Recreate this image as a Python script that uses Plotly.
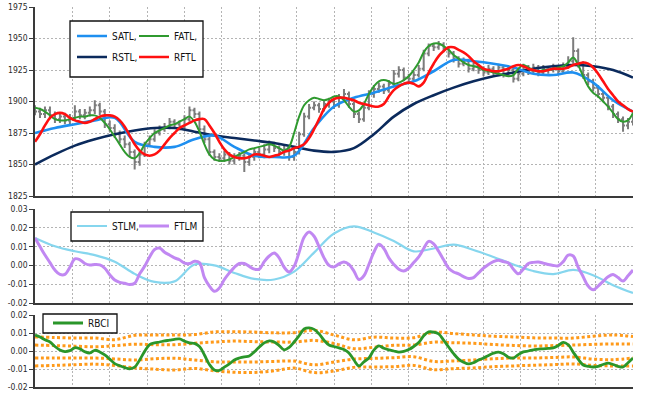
import plotly.graph_objects as go

# ---------------- data ----------------
bar_idx = list(range(121))
coarse_idx = list(range(0, 121, 4))

price_open = [1894,1892,1890,1893,1889,1886,1888,1885,1887,1892,
              1889,1891,1893,1897,1892,1882,1879,1874,1870,1866,
              1860,1852,1858,1866,1870,1875,1878,1880,1884,1882,
              1880,1886,1893,1890,1878,1870,1860,1856,1855,1858,
              1853,1856,1857,1852,1856,1860,1858,1862,1866,1863,
              1860,1862,1856,1860,1874,1888,1895,1897,1894,1898,
              1900,1897,1903,1906,1898,1890,1886,1895,1906,1910,
              1912,1909,1914,1922,1925,1919,1918,1921,1926,1938,
              1944,1943,1945,1942,1938,1934,1930,1932,1926,1928,
              1925,1923,1926,1924,1927,1922,1925,1918,1922,1927,
              1924,1927,1923,1926,1925,1927,1924,1928,1932,1940,
              1930,1921,1916,1911,1906,1903,1896,1890,1886,1881,
              1884]
price_close = [1892,1890,1893,1889,1886,1888,1885,1887,1892,1889,
               1891,1893,1897,1892,1882,1879,1874,1870,1866,1860,
               1852,1858,1866,1870,1875,1878,1880,1884,1882,1880,
               1886,1893,1890,1878,1870,1860,1856,1855,1858,1853,
               1856,1857,1852,1856,1860,1858,1862,1866,1863,1860,
               1862,1856,1860,1874,1888,1895,1897,1894,1898,1900,
               1897,1903,1906,1898,1890,1886,1895,1906,1910,1912,
               1909,1914,1922,1925,1919,1918,1921,1926,1938,1944,
               1943,1945,1942,1938,1934,1930,1932,1926,1928,1925,
               1923,1926,1924,1927,1922,1925,1918,1922,1927,1924,
               1927,1923,1926,1925,1927,1924,1928,1932,1940,1930,
               1921,1916,1911,1906,1903,1896,1890,1886,1881,1884,
               1889]
price_high = [1897,1895,1896,1896,1892,1891,1891,1890,1897,1894,
              1894,1896,1901,1899,1894,1885,1882,1877,1873,1868,
              1862,1861,1868,1873,1878,1881,1883,1887,1886,1885,
              1889,1896,1895,1892,1881,1872,1862,1859,1861,1860,
              1859,1860,1859,1859,1863,1863,1866,1869,1868,1865,
              1865,1864,1863,1876,1891,1898,1900,1899,1901,1903,
              1902,1906,1910,1908,1900,1892,1898,1909,1913,1915,
              1914,1917,1925,1928,1927,1922,1924,1929,1941,1946,
              1946,1948,1947,1944,1940,1936,1935,1934,1931,1930,
              1928,1929,1928,1930,1929,1928,1927,1925,1930,1929,
              1930,1929,1929,1928,1930,1929,1931,1936,1951,1942,
              1932,1923,1918,1913,1908,1905,1898,1892,1888,1887,
              1892]
price_low = [1889,1887,1887,1886,1883,1883,1882,1882,1885,1886,
             1886,1888,1890,1889,1879,1876,1871,1867,1863,1856,
             1846,1849,1856,1864,1868,1873,1876,1878,1879,1877,
             1878,1884,1887,1875,1867,1857,1853,1852,1852,1850,
             1850,1853,1844,1849,1853,1855,1855,1859,1860,1857,
             1857,1853,1853,1858,1872,1886,1893,1891,1892,1895,
             1894,1895,1900,1895,1887,1883,1884,1893,1903,1907,
             1906,1907,1912,1919,1916,1915,1916,1919,1924,1936,
             1940,1941,1939,1935,1931,1927,1928,1923,1924,1922,
             1920,1921,1921,1922,1919,1920,1915,1916,1920,1921,
             1922,1920,1921,1922,1923,1921,1922,1926,1930,1927,
             1918,1913,1908,1903,1900,1893,1887,1883,1876,1878,
             1881]

fatl = [1895,1894,1892,1889,1886,1885,1885,1886,1887,1888,
        1888,1889,1889,1887,1883,1878,1872,1866,1860,1856,
        1855,1859,1866,1871,1875,1877,1879,1881,1882,1884,
        1886,1888,1884,1876,1866,1858,1854,1853,1853,1854,
        1856,1858,1860,1862,1863,1864,1865,1866,1865,1863,
        1861,1864,1875,1888,1897,1901,1903,1902,1901,1902,
        1904,1904,1901,1896,1892,1893,1898,1906,1912,1916,
        1917,1916,1914,1915,1917,1920,1925,1931,1939,1944,
        1946,1946,1944,1941,1937,1934,1931,1929,1928,1927,
        1925,1924,1923,1922,1921,1920,1921,1926,1929,1927,
        1925,1924,1925,1925,1926,1927,1928,1931,1935,1929,
        1920,1912,1907,1904,1900,1896,1891,1886,1884,1885,
        1891]
rftl = [1868,1874,1881,1887,1890,1891,1890,1887,1885,1884,
        1883,1884,1886,1888,1889,1889,1888,1885,1880,1873,
        1866,1861,1858,1857,1858,1861,1866,1871,1875,1879,
        1881,1883,1885,1886,1886,1881,1875,1868,1862,1858,
        1856,1855,1855,1856,1858,1858,1857,1856,1857,1858,
        1860,1861,1863,1864,1866,1871,1878,1886,1894,1899,
        1902,1903,1903,1902,1901,1899,1898,1897,1896,1896,
        1898,1904,1909,1912,1914,1915,1914,1912,1915,1923,
        1930,1936,1940,1943,1943,1941,1939,1936,1932,1929,
        1926,1925,1924,1924,1925,1926,1928,1929,1928,1926,
        1925,1924,1924,1925,1926,1926,1926,1927,1929,1930,
        1931,1930,1927,1922,1916,1910,1905,1900,1897,1894,
        1892]
satl = [1875,1879,1882,1885,1887,1868,1864,1864,1870,1873,
        1864,1857,1856,1857,1879,1896,1903,1907,1912,1916,
        1924,1933,1932,1930,1927,1922,1921,1923,1915,1901,
        1892]
rstl = [1850,1858,1865,1870,1874,1877,1879,1879,1876,1873,
        1871,1869,1867,1864,1861,1860,1863,1874,1888,1898,
        1905,1911,1916,1920,1923,1926,1928,1929,1928,1925,
        1919]

stlm = [0.0146,0.0102,0.0075,0.0055,0.0020,-0.0045,-0.0088,-0.0085,0.0005,0.0000,
        -0.0040,-0.0072,-0.0075,-0.0033,0.0068,0.0170,0.0208,0.0175,0.0130,0.0075,
        0.0090,0.0110,0.0082,0.0045,0.0005,-0.0030,-0.0046,-0.0024,-0.0052,-0.0105,
        -0.0147]
ftlm = [0.0146,0.0100,0.0055,0.0015,-0.0025,-0.0048,-0.0048,-0.0010,0.0035,0.0030,
        0.0010,0.0002,0.0005,0.0003,-0.0015,-0.0050,-0.0078,-0.0090,-0.0095,-0.0102,
        -0.0095,-0.0045,-0.0005,0.0045,0.0085,0.0092,0.0070,0.0055,0.0040,0.0030,
        0.0012,0.0010,0.0022,0.0015,-0.0065,-0.0110,-0.0138,-0.0120,-0.0075,-0.0040,
        -0.0010,0.0010,0.0010,-0.0005,-0.0020,-0.0020,0.0020,0.0050,0.0066,0.0040,
        -0.0010,-0.0035,-0.0005,0.0070,0.0150,0.0178,0.0155,0.0100,0.0040,0.0000,
        -0.0008,0.0008,0.0018,0.0005,-0.0030,-0.0075,-0.0055,0.0005,0.0070,0.0112,
        0.0090,0.0040,0.0005,-0.0020,-0.0030,-0.0015,0.0015,0.0045,0.0090,0.0128,
        0.0115,0.0075,0.0030,-0.0015,-0.0035,-0.0045,-0.0060,-0.0070,-0.0065,-0.0040,
        -0.0015,0.0005,0.0020,0.0028,0.0020,0.0013,-0.0020,-0.0045,-0.0020,0.0010,
        0.0016,0.0018,0.0012,0.0005,0.0000,-0.0002,0.0020,0.0055,0.0050,-0.0010,
        -0.0060,-0.0110,-0.0130,-0.0110,-0.0085,-0.0060,-0.0048,-0.0065,-0.0083,-0.0055,
        -0.0025]

rbci = [0.0089,0.0078,0.0062,0.0050,0.0025,0.0006,-0.0003,0.0002,0.0018,0.0012,
        -0.0004,-0.0011,0.0004,-0.0005,-0.0022,-0.0045,-0.0070,-0.0082,-0.0092,-0.0099,
        -0.0090,-0.0050,-0.0002,0.0035,0.0045,0.0050,0.0056,0.0060,0.0065,0.0067,
        0.0055,0.0045,0.0042,0.0025,-0.0022,-0.0075,-0.0105,-0.0108,-0.0090,-0.0072,
        -0.0050,-0.0039,-0.0032,-0.0028,-0.0005,0.0022,0.0045,0.0056,0.0050,0.0030,
        0.0006,0.0020,0.0050,0.0085,0.0122,0.0128,0.0120,0.0095,0.0060,0.0033,
        0.0025,0.0017,0.0008,-0.0011,-0.0050,-0.0083,-0.0060,-0.0039,0.0005,0.0028,
        0.0015,0.0006,0.0000,-0.0006,-0.0002,0.0008,0.0025,0.0047,0.0085,0.0106,
        0.0105,0.0095,0.0060,0.0022,-0.0015,-0.0045,-0.0062,-0.0072,-0.0065,-0.0050,
        -0.0039,-0.0025,-0.0012,-0.0006,-0.0015,-0.0035,-0.0039,-0.0020,-0.0005,0.0000,
        0.0006,0.0011,0.0012,0.0014,0.0017,0.0030,0.0048,0.0035,-0.0006,-0.0045,
        -0.0078,-0.0085,-0.0089,-0.0085,-0.0075,-0.0067,-0.0075,-0.0085,-0.0089,-0.0065,
        -0.0039]
band_up2 = [0.0078,0.0075,0.0072,0.0072,0.0063,0.0087,0.0089,0.0089,0.0091,0.0106,
            0.0107,0.0105,0.0101,0.0102,0.0115,0.0089,0.0062,0.0077,0.0072,0.0074,
            0.0104,0.0097,0.0089,0.0082,0.0078,0.0073,0.0072,0.0072,0.0082,0.0089,
            0.0080]
band_up1 = [0.0033,0.0030,0.0027,0.0023,0.0030,0.0038,0.0035,0.0035,0.0043,0.0050,
            0.0055,0.0052,0.0050,0.0050,0.0059,0.0042,0.0013,0.0021,0.0032,0.0033,
            0.0049,0.0046,0.0043,0.0036,0.0031,0.0028,0.0030,0.0033,0.0037,0.0039,
            0.0039]
band_dn1 = [-0.0039,-0.0039,-0.0039,-0.0039,-0.0044,-0.0050,-0.0043,-0.0040,-0.0050,-0.0060,
            -0.0061,-0.0061,-0.0058,-0.0056,-0.0077,-0.0061,-0.0045,-0.0041,-0.0037,-0.0032,
            -0.0058,-0.0055,-0.0050,-0.0043,-0.0039,-0.0039,-0.0036,-0.0033,-0.0045,-0.0048,
            -0.0039]
band_dn2 = [-0.0083,-0.0080,-0.0076,-0.0073,-0.0080,-0.0094,-0.0101,-0.0105,-0.0097,-0.0110,
            -0.0118,-0.0119,-0.0110,-0.0095,-0.0120,-0.0111,-0.0091,-0.0089,-0.0087,-0.0080,
            -0.0104,-0.0098,-0.0094,-0.0087,-0.0083,-0.0079,-0.0076,-0.0072,-0.0080,-0.0083,
            -0.0083]

price_ticks = [1825, 1850, 1875, 1900, 1925, 1950, 1975]
price_ticktext = ["1825", "1850", "1875", "1900", "1925", "1950", "1975"]
stlm_ticks = [-0.02, -0.01, 0.0, 0.01, 0.02, 0.03]
stlm_ticktext = ["-0.02", "-0.01", "0.00", "0.01", "0.02", "0.03"]
rbci_ticks = [-0.02, -0.01, 0.0, 0.01, 0.02]
rbci_ticktext = ["-0.02", "-0.01", "0.00", "0.01", "0.02"]

# ---------------- layout helpers ----------------
W, H = 650, 394
ML, MR, MT, MB = 35, 17, 7, 7
PW = W - ML - MR
PH = H - MT - MB


def px2x(px):
    return (px - ML) / PW


def py2y(py):
    return (H - MB - py) / PH


FONT = "DejaVu Sans Condensed, Liberation Sans Narrow, Arial Narrow, sans-serif"
GRID = dict(showgrid=True, gridcolor="#b4b4b4", gridwidth=1, griddash="2px,2px")

fig = go.Figure()

fig.add_trace(go.Ohlc(
    x=bar_idx, open=price_open, high=price_high, low=price_low, close=price_close,
    increasing=dict(line=dict(color="#7c7c7c", width=2)),
    decreasing=dict(line=dict(color="#7c7c7c", width=2)),
    tickwidth=0.4, showlegend=False, xaxis="x", yaxis="y", hoverinfo="skip"))


def line(x, y, name, color, width, legend, xa, ya, dash=None, shape="spline"):
    fig.add_trace(go.Scatter(
        x=x, y=y, name=name, mode="lines",
        line=dict(color=color, width=width, shape=shape, smoothing=1.0, dash=dash),
        legend=legend, showlegend=legend is not None, xaxis=xa, yaxis=ya,
        hoverinfo="skip"))


line(coarse_idx, rstl, "RSTL,", "#0b2a5c", 2.6, "legend3", "x", "y")
line(coarse_idx, satl, "SATL,", "#1e8ff0", 2.6, "legend", "x", "y")
line(bar_idx, fatl, "FATL,", "#2f9a2f", 2.0, "legend2", "x", "y")
line(bar_idx, rftl, "RFTL", "#ff1010", 2.6, "legend4", "x", "y")

line(coarse_idx, stlm, "STLM,", "#86d6ee", 2.2, "legend5", "x2", "y2")
line(bar_idx, ftlm, "FTLM", "#c188f2", 3.0, "legend6", "x2", "y2")

for b in (band_up2, band_up1, band_dn1, band_dn2):
    line(coarse_idx, b, "band", "#ff9a1a", 3.0, None, "x3", "y3", dash="3px,2.5px")
line(bar_idx, rbci, "RBCI", "#2a962a", 2.8, "legend7", "x3", "y3")

xcommon = dict(range=[0, 120], tick0=0, dtick=7.5, showticklabels=False, ticks="",
               showline=True, linecolor="#3a3a3a", linewidth=2, zeroline=False, **GRID)
ycommon = dict(showline=True, linecolor="#3a3a3a", linewidth=1.5, zeroline=False,
               ticks="outside", ticklen=4, tickcolor="#3a3a3a", tickwidth=1,
               tickfont=dict(family=FONT, size=8.5, color="#2a2a2a"), **GRID)

legfont = dict(family=FONT, size=10, color="#111111")


def leg(px, py):
    return dict(x=px2x(px), y=py2y(py), xref="paper", yref="paper",
                xanchor="left", yanchor="middle", orientation="h",
                bgcolor="rgba(0,0,0,0)", borderwidth=0, font=legfont,
                itemwidth=30, tracegroupgap=0)


boxes = [(70, 21, 203, 77), (71, 212, 203, 241), (43, 314, 117, 333)]
shapes = [dict(type="rect", xref="paper", yref="paper",
               x0=px2x(a), x1=px2x(c), y0=py2y(d), y1=py2y(b),
               line=dict(color="#111111", width=1.3), fillcolor="white", layer="above")
          for a, b, c, d in boxes]

fig.update_layout(
    width=W, height=H,
    margin=dict(l=ML, r=MR, t=MT, b=MB, pad=0, autoexpand=False),
    paper_bgcolor="white", plot_bgcolor="white",
    showlegend=True,
    xaxis=dict(domain=[0, 1], anchor="y", rangeslider=dict(visible=False), **xcommon),
    xaxis2=dict(domain=[0, 1], anchor="y2", **xcommon),
    xaxis3=dict(domain=[0, 1], anchor="y3", **xcommon),
    yaxis=dict(domain=[py2y(196), 1], anchor="x", range=[1825, 1975],
               tickvals=price_ticks, ticktext=price_ticktext, **ycommon),
    yaxis2=dict(domain=[py2y(303), py2y(209)], anchor="x2", range=[-0.02, 0.03],
                tickvals=stlm_ticks, ticktext=stlm_ticktext, **ycommon),
    yaxis3=dict(domain=[0, py2y(315)], anchor="x3", range=[-0.02, 0.02],
                tickvals=rbci_ticks, ticktext=rbci_ticktext, **ycommon),
    legend=leg(72, 36), legend2=leg(134, 36),
    legend3=leg(72, 57), legend4=leg(134, 57),
    legend5=leg(72, 226), legend6=leg(134, 226),
    legend7=leg(48, 323),
    shapes=shapes,
)

fig.write_html("out.html",
               config={"displayModeBar": False},
               post_script="document.body.style.margin='0';document.body.style.overflow='hidden';")
